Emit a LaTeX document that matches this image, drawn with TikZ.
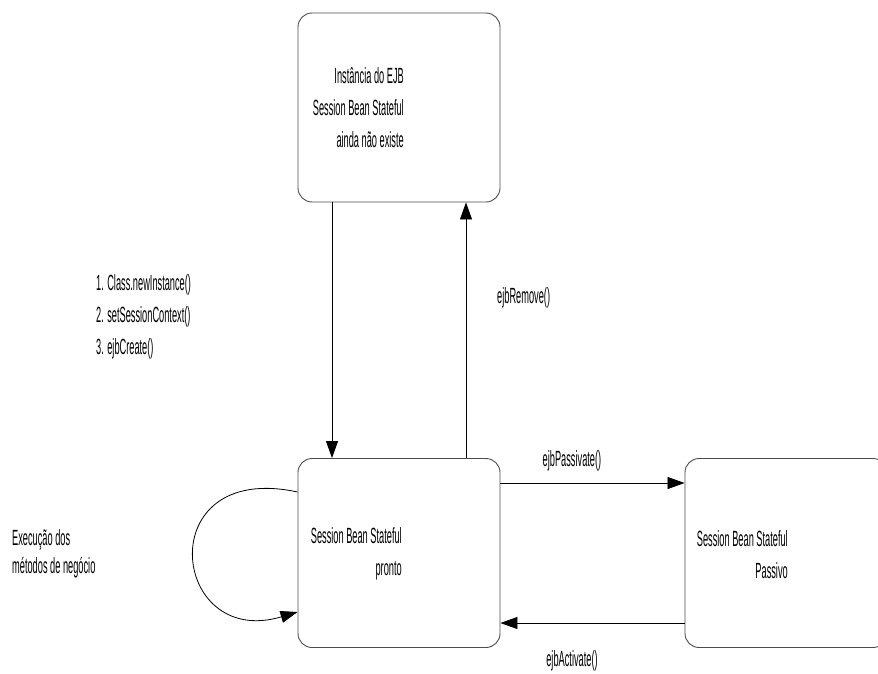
\documentclass[tikz,border=0pt]{standalone}
\usepackage{fontspec}
\setmainfont{Liberation Sans}[FakeStretch=0.42]
\usetikzlibrary{arrows.meta}

\tikzset{
  estado/.style={draw=black!70, line width=0.9pt, rounded corners=14pt,
    minimum width=202pt, minimum height=189pt, inner sep=0pt},
  rotulo/.style={font=\fontsize{22}{32}\selectfont, inner sep=0pt},
  seta/.style={-{Triangle[length=17pt,width=12pt]}, line width=0.8pt},
}

\begin{document}
\begin{tikzpicture}[x=1pt,y=-1pt]
\useasboundingbox (0,0) rectangle (878,674);
% estados
\node[estado] (inexistente) at (399,107.5) {};
\node[estado] (pronto) at (399,553) {};
\node[estado] (passivo) at (786,553) {};
\node[rotulo, align=right, anchor=east] (txtinexistente) at ([xshift=5pt]inexistente.center)
  {Instância do EJB\\Session Bean Stateful\\ainda não existe};
\node[rotulo, align=right, anchor=east] (txtpronto) at ([xshift=3pt,yshift=-1pt]pronto.center)
  {Session Bean Stateful\\pronto};
\node[rotulo, align=right, anchor=east] (txtpassivo) at ([xshift=2pt,yshift=-2pt]passivo.center)
  {Session Bean Stateful\\Passivo};
% transicoes
\draw[seta] ([xshift=-67pt]inexistente.south) -- ([xshift=-67pt]pronto.north);
\draw[seta] ([xshift=67pt]pronto.north) -- ([xshift=67pt]inexistente.south);
\draw[seta] ([yshift=70pt]pronto.east) -- ([yshift=70pt]passivo.west);
\draw[seta] ([yshift=-70pt]passivo.west) -- ([yshift=-70pt]pronto.east);
\draw[seta] ([yshift=61pt]pronto.west) .. controls (150,460) and (170,650) .. ([yshift=-59pt]pronto.west);
% rotulos
\node[rotulo, align=left, anchor=west] (criacao) at (96,317)
  {1. Class.newInstance()\\2. setSessionContext()\\3. ejbCreate()};
\node[rotulo, anchor=west] (remocao) at (497,298) {ejbRemove()};
\node[rotulo] (passivacao) at (572,461) {ejbPassivate()};
\node[rotulo] (ativacao) at (572,661) {ejbActivate()};
\node[rotulo, align=left, anchor=west] (negocio) at (12,554)
  {Execução dos\\[-4pt]métodos de negócio};
\end{tikzpicture}
\end{document}
